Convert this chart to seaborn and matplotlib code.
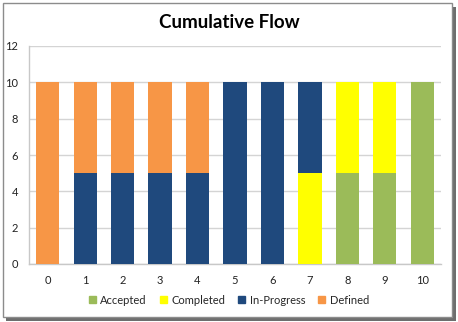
import matplotlib
matplotlib.use("Agg")
import matplotlib.pyplot as plt
import matplotlib.patches as mpatches
import seaborn as sns
import pandas as pd
import numpy as np

categories = ["0", "1", "2", "3", "4", "5", "6", "7", "8", "9", "10"]
accepted = [0, 0, 0, 0, 0, 0, 0, 0, 5, 5, 10]
completed = [0, 0, 0, 0, 0, 0, 0, 5, 5, 5, 0]
in_progress = [0, 5, 5, 5, 5, 10, 10, 5, 0, 0, 0]
defined = [10, 5, 5, 5, 5, 0, 0, 0, 0, 0, 0]
series_names = ["Accepted", "Completed", "In-Progress", "Defined"]
colors = {"Accepted": "#9BBB59", "Completed": "#FFFF00",
          "In-Progress": "#1F497D", "Defined": "#F79646"}

sns.set_theme(style="white")
plt.rcParams["font.family"] = ["Lato", "DejaVu Sans"]

fig = plt.figure(figsize=(4.58, 3.22), dpi=100)

# frame with shadow
fig.patches.append(mpatches.Rectangle((6 / 458, 1 / 322), 450 / 458, 314 / 322,
                                      transform=fig.transFigure, facecolor="#6e6e6e",
                                      edgecolor="none", zorder=-2))
fig.patches.append(mpatches.Rectangle((3 / 458, 5 / 322), 449 / 458, 314 / 322,
                                      transform=fig.transFigure, facecolor="white",
                                      edgecolor="#8c8c8c", linewidth=1.0, zorder=-1))

ax = fig.add_axes([29 / 458, 58 / 322, 412 / 458, 218 / 322])
ax.set_facecolor("none")

vals = np.array([accepted, completed, in_progress, defined], dtype=float)
cum = np.cumsum(vals, axis=0)

for i in range(len(series_names) - 1, -1, -1):
    df = pd.DataFrame({"cat": categories, "val": cum[i]})
    sns.barplot(data=df, x="cat", y="val", color=colors[series_names[i]],
                saturation=1, width=0.62, ax=ax,
                edgecolor="none", linewidth=0, zorder=3)

if ax.get_legend() is not None:
    ax.get_legend().remove()

ax.set_ylim(0, 12)
ax.set_xlim(-0.5, 10.5)
ax.set_yticks([0, 2, 4, 6, 8, 10, 12])
ax.yaxis.grid(True, color="#d4d4d4", linewidth=1.0, zorder=0)
ax.set_axisbelow(True)
ax.set_xlabel("")
ax.set_ylabel("")
for s in ["top", "right"]:
    ax.spines[s].set_visible(False)
for s in ["left", "bottom"]:
    ax.spines[s].set_color("#c8c8c8")
    ax.spines[s].set_linewidth(1.0)
ax.tick_params(axis="both", length=0, labelsize=8, colors="#222222")
ax.tick_params(axis="y", pad=8)
ax.tick_params(axis="x", pad=8)

fig.text(0.5, 1 - 22 / 322, "Cumulative Flow", ha="center", va="center",
         fontsize=13.5, fontweight="bold", color="black")

handles = [mpatches.Patch(color=colors[n], label=n) for n in series_names]
fig.legend(handles=handles, loc="center", bbox_to_anchor=(0.5, 1 - 300 / 322),
           ncol=4, frameon=False, fontsize=8, handlelength=0.6, handleheight=0.6,
           handletextpad=0.4, columnspacing=1.2)

fig.savefig("out.png", dpi=100)
